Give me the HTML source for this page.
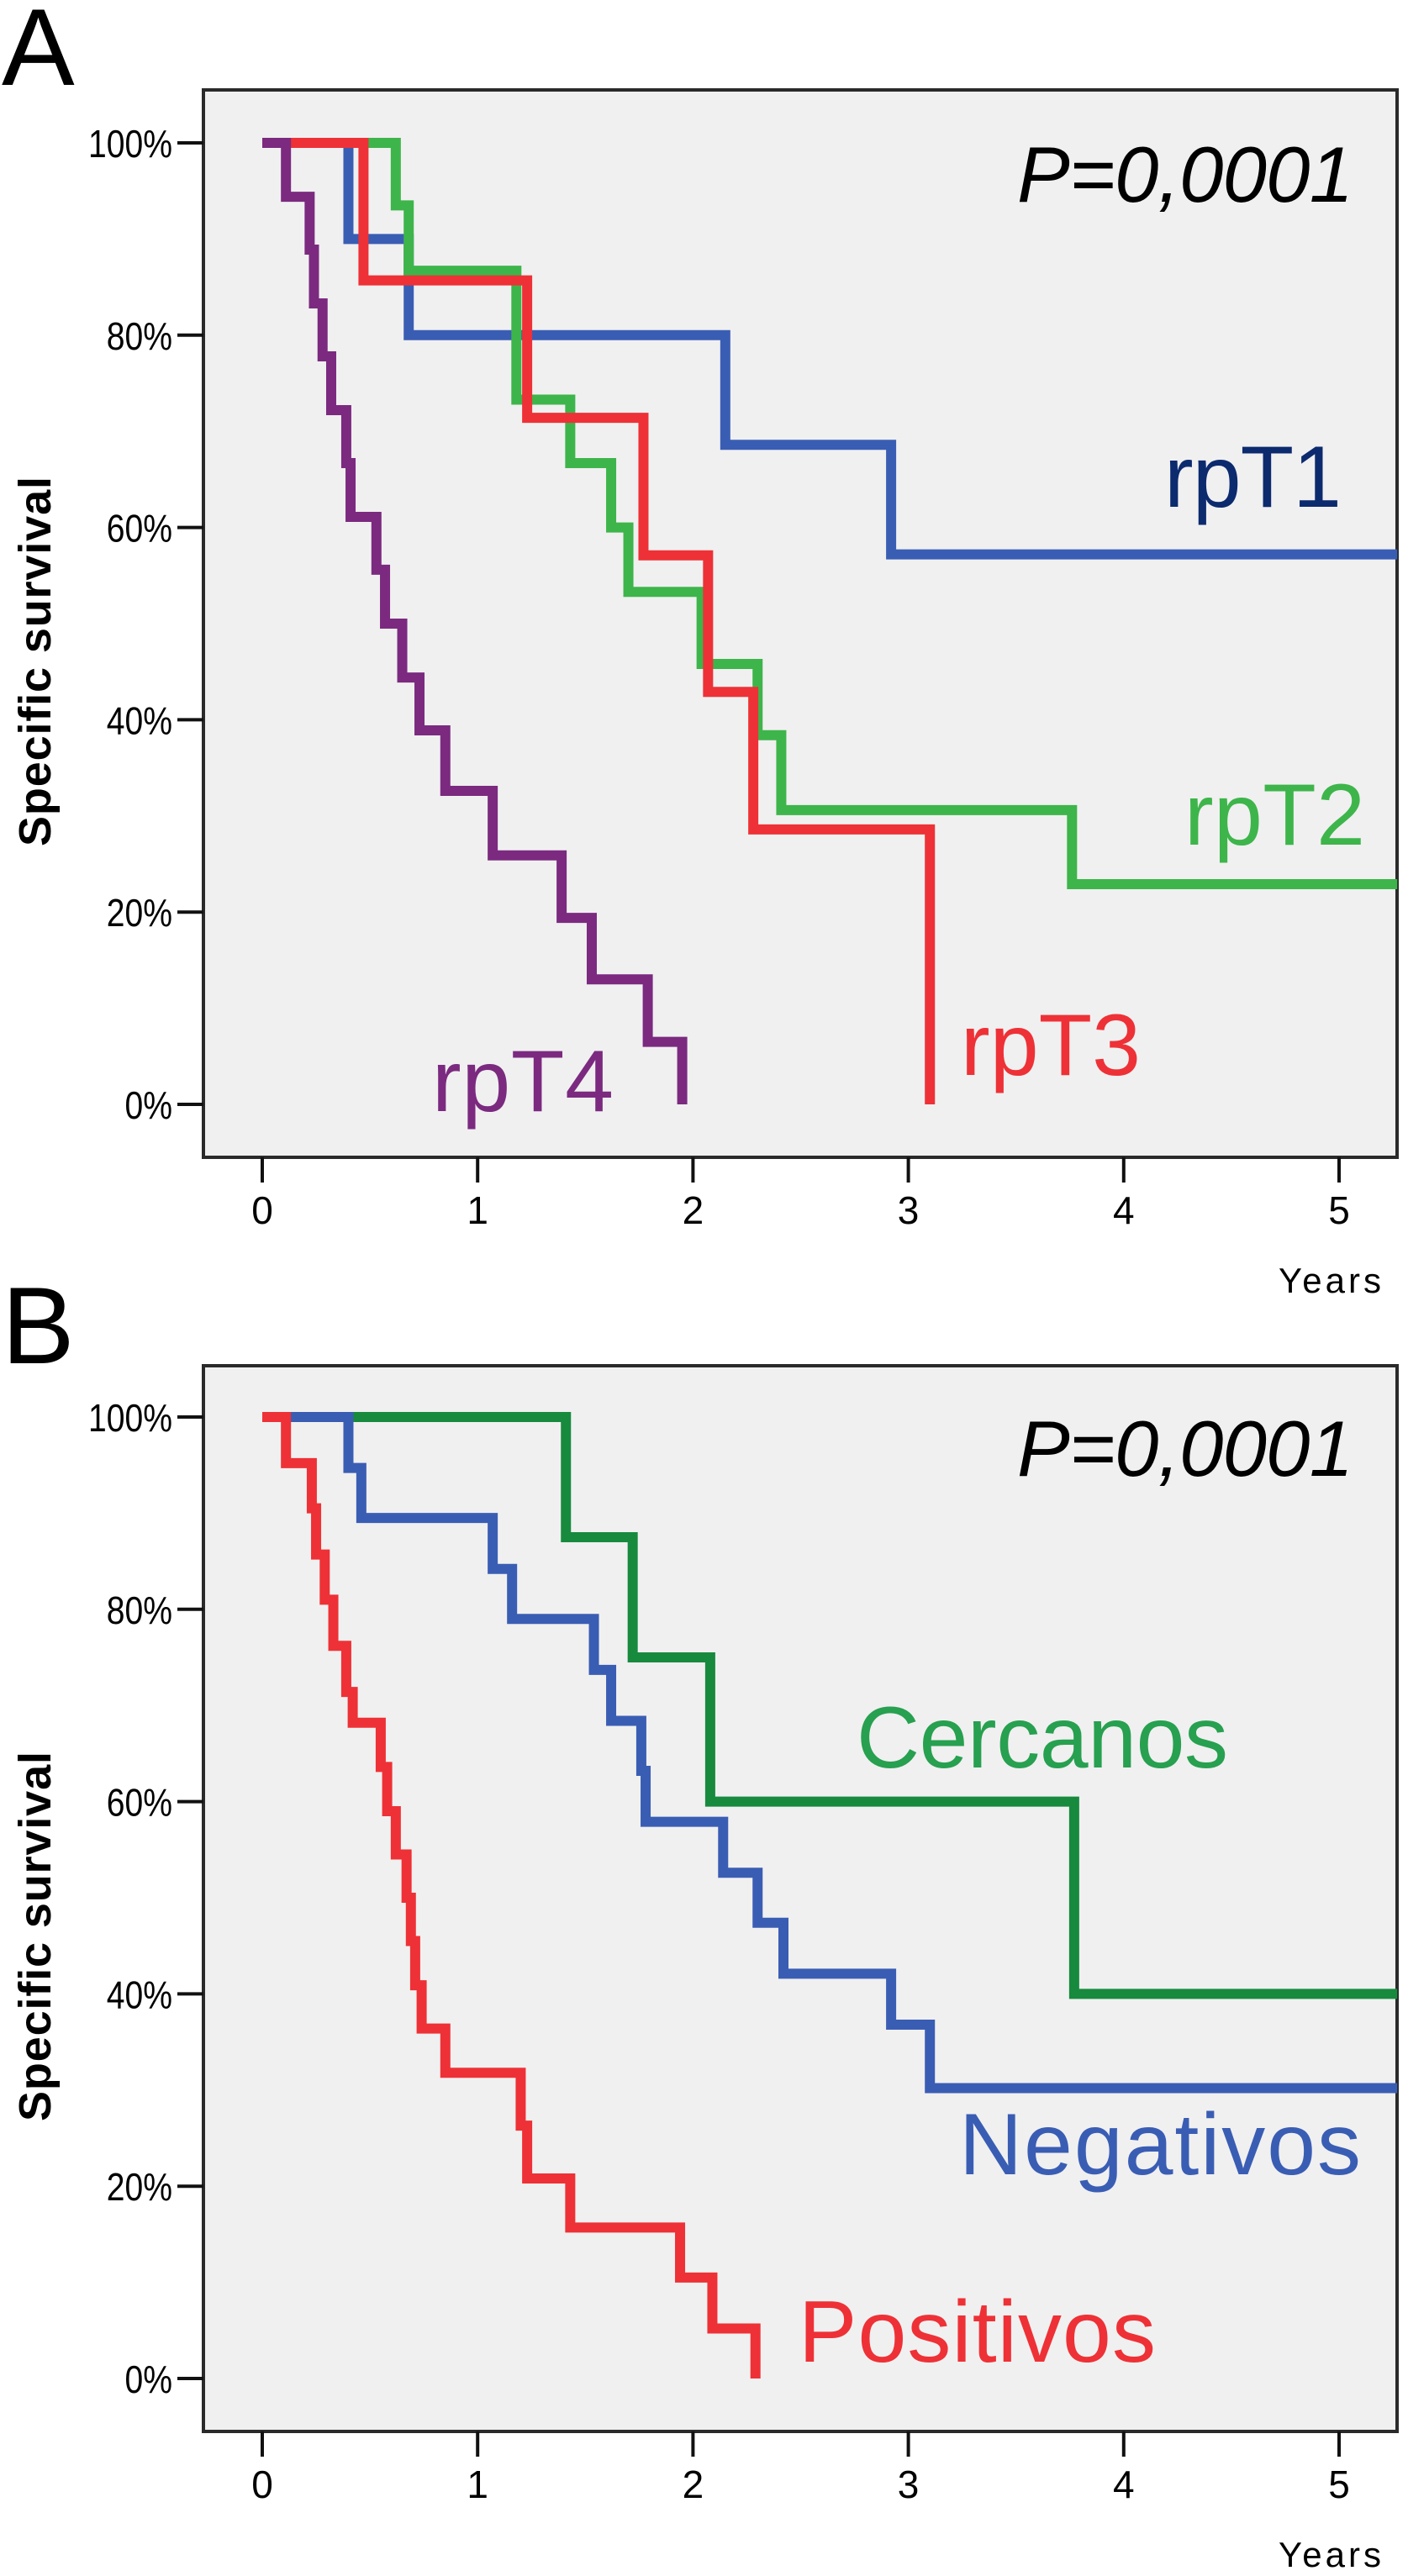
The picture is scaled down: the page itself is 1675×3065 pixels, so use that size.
<!DOCTYPE html>
<html><head><meta charset="utf-8"><style>
html,body{margin:0;padding:0;background:#fff;}
svg{display:block;}
text{font-family:"Liberation Sans",sans-serif;}
</style></head><body>
<svg id="fig" width="1675" height="3065" viewBox="0 0 1675 3065" xmlns="http://www.w3.org/2000/svg"></svg>
<script>
// ---- Panel A data (years, survival %) ----
const aT1Times=[0,0.40,0.68,2.15,2.92];
const aT1Vals=[100,90,80,68.6,57.2];
const aT2Times=[0,0.62,0.68,1.18,1.43,1.62,1.70,2.04,2.30,2.41,3.76];
const aT2Vals=[100,93.5,86.7,73.3,66.7,60,53.3,45.8,38.4,30.6,22.9];
const aT3Times=[0,0.47,1.23,1.77,2.07,2.28,3.10];
const aT3Vals=[100,85.7,71.4,57.1,42.9,28.6,0];
const aT4Times=[0,0.11,0.22,0.24,0.28,0.32,0.39,0.41,0.53,0.57,0.65,0.73,0.85,1.07,1.39,1.53,1.79,1.95];
const aT4Vals=[100,94.4,88.9,83.3,77.8,72.2,66.7,61.1,55.6,50,44.4,38.9,32.6,25.9,19.4,13,6.5,0];
// ---- Panel B data ----
const bCerTimes=[0,1.41,1.72,2.08,3.77];
const bCerVals=[100,87.5,75,60,40];
const bNegTimes=[0,0.40,0.46,1.07,1.16,1.54,1.62,1.76,1.78,2.14,2.30,2.42,2.92,3.10];
const bNegVals=[100,94.7,89.5,84.2,79,73.7,68.4,63.2,57.9,52.6,47.4,42.1,36.8,30.2];
const bPosTimes=[0,0.11,0.23,0.25,0.29,0.33,0.39,0.42,0.55,0.58,0.62,0.67,0.69,0.71,0.74,0.85,1.20,1.23,1.43,1.94,2.09,2.29];
const bPosVals=[100,95.2,90.5,85.7,81,76.2,71.4,68.2,63.6,59,54.5,50,45.5,40.9,36.4,31.8,26.3,20.8,15.7,10.5,5.2,0];
const xTickLabels=["0","1","2","3","4","5"];
const yTickLabels=["0%","20%","40%","60%","80%","100%"];
const yTickValues=[0,20,40,60,80,100];
const xMax=5.27;

const NS="http://www.w3.org/2000/svg";
const svg=document.getElementById('fig');
function mk(tag,attrs,parent){const e=document.createElementNS(NS,tag);for(const k in attrs)e.setAttribute(k,attrs[k]);(parent||svg).appendChild(e);return e;}

function panel(cfg){
  const g=mk('g',{});
  
  
  const X=t=>312+t*256.2;
  const Y=v=>cfg.y0-(cfg.y0-cfg.y100)*v/100;
  const letter=mk('text',{x:cfg.lx,y:cfg.ly,'font-size':130},g);
  letter.textContent=cfg.letter;
  
  
  const bg=mk('rect',{x:242,y:cfg.top,width:1420,height:cfg.bottom-cfg.top,fill:'#f0f0f0',stroke:'#2a2a2a','stroke-width':4},g);
  
  
  yTickValues.forEach((v,i)=>{
    const tk=mk('line',{x1:211,x2:242,y1:Y(v),y2:Y(v),stroke:'#111','stroke-width':4},g);
    
    
    const lb=mk('text',{x:205,y:Y(v)+17,'font-size':46,'text-anchor':'end',transform:`translate(205 0) scale(0.85 1) translate(-205 0)`},g);
    lb.textContent=yTickLabels[i];
    
    
  });
  xTickLabels.forEach((s,i)=>{
    const tk=mk('line',{x1:X(i),x2:X(i),y1:cfg.bottom,y2:cfg.bottom+30,stroke:'#111','stroke-width':4},g);
    
    
    const lb=mk('text',{x:X(i),y:cfg.bottom+79,'font-size':46,'text-anchor':'middle'},g);
    lb.textContent=s;
    
    
  });
  const yr=mk('text',{x:1521,y:cfg.bottom+161,'font-size':42,textLength:122},g);
  yr.textContent='Years';
  
  
  const cy=(cfg.top+cfg.bottom)/2+45;
  const yt=mk('text',{x:60,y:cy,'font-size':54,'font-weight':'bold','text-anchor':'middle',textLength:440,transform:`rotate(-90 60 ${cy})`},g);
  yt.textContent='Specific survival';
  
  
  const p=mk('text',{x:1210,y:cfg.y100+70,'font-size':94,'font-style':'italic',textLength:400},g);
  p.textContent='P=0,0001';
  
  
  cfg.series.forEach(s=>{
    let d=`M${X(s.t[0])},${Y(s.v[0])}`;
    for(let i=1;i<s.t.length;i++){d+=` H${X(s.t[i])} V${Y(s.v[i])}`;}
    if(s.v[s.v.length-1]>0)d+=` H${X(xMax)}`;
    const path=mk('path',{d:d,fill:'none',stroke:s.color,'stroke-width':12,'stroke-linejoin':'miter','stroke-linecap':'butt'},g);
    
    
  });
  cfg.labels.forEach(l=>{
    const t=mk('text',{x:l.x,y:l.y,'font-size':104,fill:l.color,textLength:l.w},g);
    t.textContent=l.text;
    
    
  });
}

panel({name:'panel-a',letter:'A',lx:2,ly:101,top:107,bottom:1377,y100:170,y0:1314,
  series:[
    {id:'rpt1',t:aT1Times,v:aT1Vals,color:'#3a5db4'},
    {id:'rpt2',t:aT2Times,v:aT2Vals,color:'#3db54a'},
    {id:'rpt3',t:aT3Times,v:aT3Vals,color:'#ee3136'},
    {id:'rpt4',t:aT4Times,v:aT4Vals,color:'#7b2a80'}],
  labels:[
    {id:'rpt1',text:'rpT1',x:1385,y:603,w:211,color:'#0c2a6e'},
    {id:'rpt2',text:'rpT2',x:1409,y:1005,w:215,color:'#3db54a'},
    {id:'rpt3',text:'rpT3',x:1143,y:1279,w:214,color:'#ee3136'},
    {id:'rpt4',text:'rpT4',x:514,y:1322,w:216,color:'#7b2a80'}]
});
panel({name:'panel-b',letter:'B',lx:2,ly:1622,top:1625,bottom:2893,y100:1686,y0:2830,
  series:[
    {id:'cercanos',t:bCerTimes,v:bCerVals,color:'#178a3e'},
    {id:'negativos',t:bNegTimes,v:bNegVals,color:'#3a5db4'},
    {id:'positivos',t:bPosTimes,v:bPosVals,color:'#ee3136'}],
  labels:[
    {id:'cercanos',text:'Cercanos',x:1019,y:2103,w:442,color:'#27a050'},
    {id:'negativos',text:'Negativos',x:1141,y:2587,w:478,color:'#3a5db4'},
    {id:'positivos',text:'Positivos',x:950,y:2810,w:425,color:'#ee3136'}]
});
</script>
</body></html>
